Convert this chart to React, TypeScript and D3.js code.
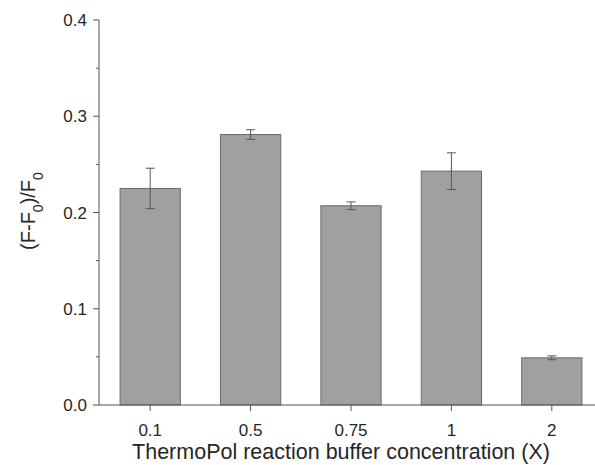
import React from 'react';
import * as d3 from 'd3';

const categories = ['0.1', '0.5', '0.75', '1', '2'];
const values = [0.225, 0.281, 0.207, 0.243, 0.049];
const errors = [0.021, 0.005, 0.004, 0.019, 0.002];
const majorTicks = [0.0, 0.1, 0.2, 0.3, 0.4];
const minorTicks = [0.05, 0.15, 0.25, 0.35];

const width = 595;
const height = 465;
const axisX = 99;
const axisY = 405;
const font = 'Liberation Sans, Arial, sans-serif';
const textColor = '#262626';
const axisColor = '#555';

export default function App() {
  const x = d3.scaleBand().domain(categories).range([100, 602]).paddingInner(0.4).paddingOuter(0.2);
  const y = d3.scaleLinear().domain([0, 0.4]).range([axisY, 20]);

  return (
    <svg width={width} height={height} style={{ position: 'absolute', left: 0, top: 0 }}>
      <rect width={width} height={height} fill="#fff" />
      {/* bars */}
      {categories.map((c, i) => (
        <rect
          key={c}
          x={x(c)}
          y={y(values[i])}
          width={x.bandwidth()}
          height={axisY - y(values[i])}
          fill="#a0a0a0"
          stroke="#6a6a6a"
          strokeWidth={1}
        />
      ))}
      {/* error bars */}
      {categories.map((c, i) => {
        const cx = (x(c) as number) + x.bandwidth() / 2;
        const hi = y(values[i] + errors[i]);
        const lo = y(values[i] - errors[i]);
        return (
          <g key={c} stroke={axisColor} strokeWidth={1}>
            <line x1={cx} x2={cx} y1={hi} y2={lo} />
            <line x1={cx - 4.5} x2={cx + 4.5} y1={hi} y2={hi} />
            <line x1={cx - 4.5} x2={cx + 4.5} y1={lo} y2={lo} />
          </g>
        );
      })}
      {/* y axis */}
      <line x1={axisX} x2={axisX} y1={y(0.4)} y2={axisY} stroke={axisColor} strokeWidth={1} />
      {majorTicks.map((t) => (
        <g key={t}>
          <line x1={axisX - 6} x2={axisX} y1={y(t)} y2={y(t)} stroke={axisColor} />
          <text
            x={axisX - 12}
            y={y(t)}
            dy="0.36em"
            textAnchor="end"
            fontFamily={font}
            fontSize={17}
            fill={textColor}
          >
            {d3.format('.1f')(t)}
          </text>
        </g>
      ))}
      {minorTicks.map((t) => (
        <line key={t} x1={axisX - 3} x2={axisX} y1={y(t)} y2={y(t)} stroke={axisColor} />
      ))}
      {/* x axis */}
      <line x1={axisX} x2={width} y1={axisY} y2={axisY} stroke={axisColor} strokeWidth={1} />
      {categories.map((c) => {
        const cx = (x(c) as number) + x.bandwidth() / 2;
        return (
          <g key={c}>
            <line x1={cx} x2={cx} y1={axisY} y2={axisY + 6} stroke={axisColor} />
            <text x={cx} y={axisY + 31} textAnchor="middle" fontFamily={font} fontSize={17} fill={textColor}>
              {c}
            </text>
          </g>
        );
      })}
      <text x={341} y={459} textAnchor="middle" fontFamily={font} fontSize={21.5} fill={textColor}>
        ThermoPol reaction buffer concentration (X)
      </text>
      <text
        transform={`translate(35, 211) rotate(-90)`}
        textAnchor="middle"
        fontFamily={font}
        fontSize={20}
        fill={textColor}
      >
        (F-F<tspan baselineShift="sub" fontSize={14}>0</tspan>)/F
        <tspan baselineShift="sub" fontSize={14}>0</tspan>
      </text>
    </svg>
  );
}
